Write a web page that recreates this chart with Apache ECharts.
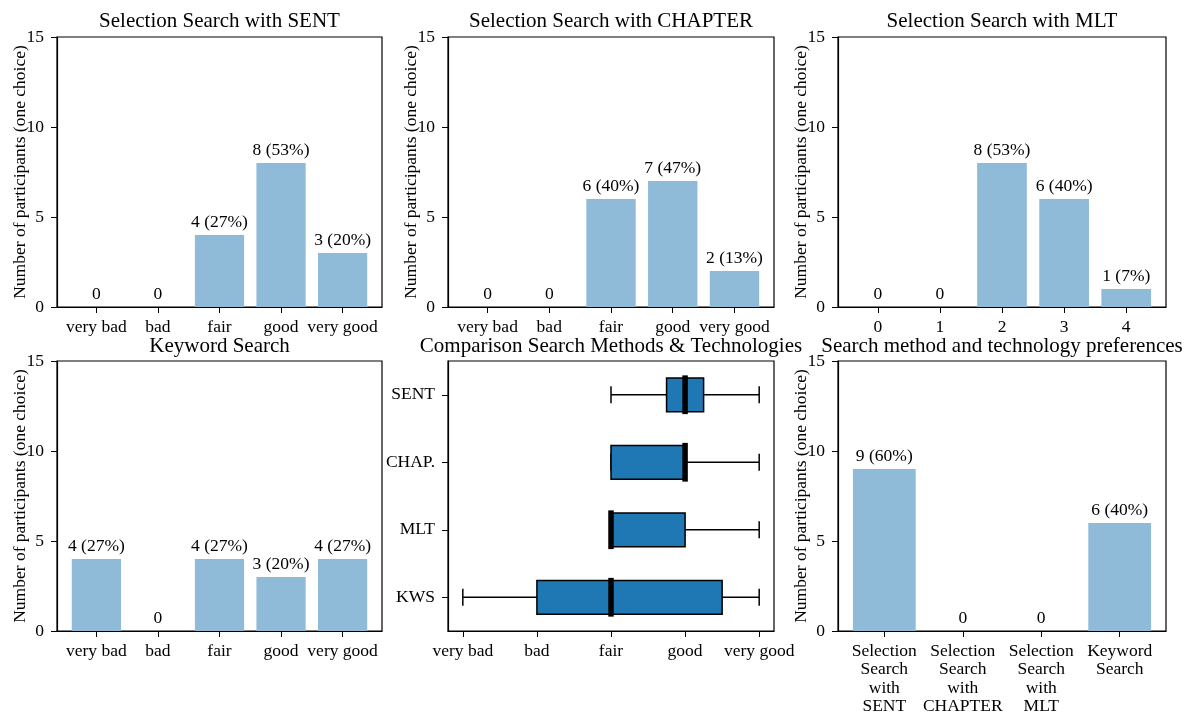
<!DOCTYPE html>
<html>
<head>
<meta charset="utf-8">
<script src="https://cdn.jsdelivr.net/npm/echarts@6/dist/echarts.min.js"></script>
<style>html,body{margin:0;padding:0;background:#fff}#c{width:1190px;height:713px}</style>
</head>
<body>
<div id="c"></div>
<script>
// ---------- data ----------
var ratingLabels = ['very bad', 'bad', 'fair', 'good', 'very good'];
var mltLabels = ['0', '1', '2', '3', '4'];
var prefLabels = ['Selection\nSearch\nwith\nSENT', 'Selection\nSearch\nwith\nCHAPTER', 'Selection\nSearch\nwith\nMLT', 'Keyword\nSearch'];
var sentCounts = [0, 0, 4, 8, 3];
var chapterCounts = [0, 0, 6, 7, 2];
var mltCounts = [0, 0, 8, 6, 1];
var keywordCounts = [4, 0, 4, 3, 4];
var prefCounts = [9, 0, 0, 6];
var totalParticipants = 15;
var boxCategories = ['KWS', 'MLT', 'CHAP.', 'SENT'];
// [min, q1, median, q3, max] on the 0..4 rating scale
var boxKWS = [0, 1, 2, 3.5, 4];
var boxMLT = [2, 2, 2, 3, 4];
var boxCHAP = [2, 2, 3, 3, 4];
var boxSENT = [2, 2.75, 3, 3.25, 4];
var titles = ['Selection Search with SENT', 'Selection Search with CHAPTER', 'Selection Search with MLT',
              'Keyword Search', 'Comparison Search Methods & Technologies', 'Search method and technology preferences'];
var yLabel = 'Number of participants (one choice)';

// ---------- layout ----------
var FONT = 'Liberation Serif';
var FS = 17.5;
var cols = [[57, 382], [448, 774], [838, 1166]];
var rows = [[37, 307], [361, 631]];
var W = 1190, H = 713;
function gridFor(r, c) {
  return {left: cols[c][0], width: cols[c][1] - cols[c][0], top: rows[r][0], height: rows[r][1] - rows[r][0],
          show: true, borderColor: '#000', borderWidth: 1.2, backgroundColor: 'transparent',
          containLabel: false, outerBoundsMode: 'none'};
}
var grids = [gridFor(0,0), gridFor(0,1), gridFor(0,2), gridFor(1,0), gridFor(1,1), gridFor(1,2)];

var axisCommon = {
  axisLine: {show: true, onZero: false, lineStyle: {color: '#000', width: 1.2}},
  axisTick: {show: true, inside: false, length: 6, lineStyle: {color: '#000', width: 1}},
  splitLine: {show: false},
  axisLabel: {color: '#000', fontFamily: FONT, fontSize: FS, margin: 11}
};
function merge(a, b) { var o = JSON.parse(JSON.stringify(a)); for (var k in b) { if (typeof b[k] === 'object' && !Array.isArray(b[k]) && o[k]) { for (var kk in b[k]) o[k][kk] = b[k][kk]; } else o[k] = b[k]; } return o; }

function barX(idx, labels) {
  var n = labels.length;
  var ticks = labels.map(function (_, i) { return i; });
  var ax = merge(axisCommon, {type: 'value', gridIndex: idx, min: -0.4 - 0.05 * (n - 0.2), max: n - 0.6 + 0.05 * (n - 0.2)});
  ax.axisTick.customValues = ticks;
  ax.axisLabel.customValues = ticks;
  ax.axisLabel.formatter = function (v) { return labels[Math.round(v)]; };
  ax.axisLabel.lineHeight = 18.5;
  return ax;
}
function barY(idx) {
  var ax = merge(axisCommon, {type: 'value', gridIndex: idx, min: 0, max: 15, interval: 5,
    name: yLabel, nameLocation: 'middle', nameGap: 28, nameRotate: 90, nameMoveOverlap: false,
    nameTextStyle: {color: '#000', fontFamily: FONT, fontSize: FS}});
  ax.axisLabel.margin = 13;
  return ax;
}

var xAxes = [barX(0, ratingLabels), barX(1, ratingLabels), barX(2, mltLabels), barX(3, ratingLabels)];
var boxX = merge(axisCommon, {type: 'value', gridIndex: 4, min: -0.2, max: 4.2});
boxX.axisTick.customValues = [0, 1, 2, 3, 4];
boxX.axisLabel.customValues = [0, 1, 2, 3, 4];
boxX.axisLabel.formatter = function (v) { return ratingLabels[Math.round(v)]; };
xAxes.push(boxX);
xAxes.push(barX(5, prefLabels));

var yAxes = [barY(0), barY(1), barY(2), barY(3)];
var boxY = merge(axisCommon, {type: 'category', gridIndex: 4, data: boxCategories, boundaryGap: true});
boxY.axisTick.alignWithLabel = true;
boxY.axisLabel.margin = 13;
yAxes.push(boxY);
yAxes.push(barY(5));

function barSeries(idx, counts) {
  return {
    type: 'bar', xAxisIndex: idx, yAxisIndex: idx, barWidth: '80%',
    data: counts.map(function (v, i) { return [i, v]; }),
    itemStyle: {color: '#8fbbd9'},
    label: {show: true, position: 'top', distance: 4, color: '#000', fontFamily: FONT, fontSize: FS,
      formatter: function (p) { var v = p.value[1]; return v === 0 ? '0' : v + ' (' + Math.round(v / totalParticipants * 100) + '%)'; }}
  };
}

var boxData = [boxKWS, boxMLT, boxCHAP, boxSENT].map(function (b, i) { return [i].concat(b); });

var series = [
  barSeries(0, sentCounts), barSeries(1, chapterCounts), barSeries(2, mltCounts), barSeries(3, keywordCounts),
  {
    type: 'custom', coordinateSystem: 'cartesian2d', xAxisIndex: 4, yAxisIndex: 4,
    encode: {x: [1, 2, 3, 4, 5], y: 0},
    data: boxData,
    renderItem: function (params, api) {
      var cat = api.value(0);
      var pMin = api.coord([api.value(1), cat]);
      var pQ1 = api.coord([api.value(2), cat]);
      var pMed = api.coord([api.value(3), cat]);
      var pQ3 = api.coord([api.value(4), cat]);
      var pMax = api.coord([api.value(5), cat]);
      var band = api.size([0, 1])[1];
      var h = band * 0.5, y = pMin[1];
      var ln = {stroke: '#000', lineWidth: 1.5, fill: null};
      return {type: 'group', children: [
        {type: 'line', shape: {x1: pMin[0], y1: y, x2: pQ1[0], y2: y}, style: ln},
        {type: 'line', shape: {x1: pQ3[0], y1: y, x2: pMax[0], y2: y}, style: ln},
        {type: 'line', shape: {x1: pMin[0], y1: y - h / 4, x2: pMin[0], y2: y + h / 4}, style: ln},
        {type: 'line', shape: {x1: pMax[0], y1: y - h / 4, x2: pMax[0], y2: y + h / 4}, style: ln},
        {type: 'rect', shape: {x: pQ1[0], y: y - h / 2, width: pQ3[0] - pQ1[0], height: h},
          style: {fill: '#1f77b4', stroke: '#000', lineWidth: 1.5}},
        {type: 'line', shape: {x1: pMed[0], y1: y - h / 2 - 2.5, x2: pMed[0], y2: y + h / 2 + 2.5},
          style: {stroke: '#000', lineWidth: 5.5}}
      ]};
    }
  },
  barSeries(5, prefCounts)
];

var titleTops = [11, 336];
var titleOpts = titles.map(function (t, i) {
  var r = Math.floor(i / 3), c = i % 3;
  return {text: t, left: (cols[c][0] + cols[c][1]) / 2, top: titleTops[r], textAlign: 'center', padding: 0,
    textStyle: {color: '#000', fontFamily: FONT, fontSize: 21, fontWeight: 'normal'}};
});

var chart = echarts.init(document.getElementById('c'), null, {renderer: 'canvas', width: W, height: H});
chart.setOption({
  animation: false,
  backgroundColor: '#fff',
  textStyle: {fontFamily: FONT},
  title: titleOpts,
  grid: grids,
  xAxis: xAxes,
  yAxis: yAxes,
  series: series
});
</script>
</body>
</html>
